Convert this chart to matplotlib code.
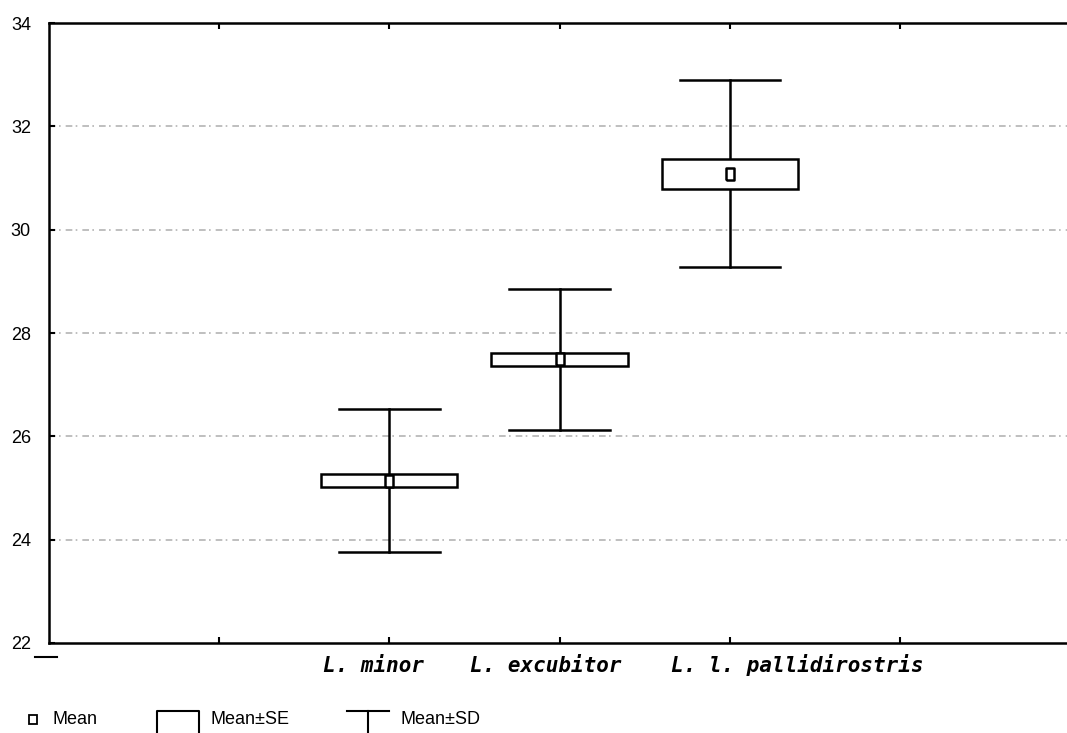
import matplotlib
matplotlib.use("Agg")
import matplotlib.pyplot as plt
import matplotlib.transforms as mtransforms
from matplotlib.lines import Line2D
from matplotlib.patches import Rectangle

# group summaries: mean, mean +/- SE, mean +/- SD
species = ["L. minor", "L. excubitor", "L. l. pallidirostris"]
positions = [2, 3, 4]
means = [25.14, 27.49, 31.08]
se = [0.13, 0.13, 0.29]
sd = [1.38, 1.37, 1.81]

y_ticks = [22, 24, 26, 28, 30, 32, 34]
grid_levels = [24, 26, 28, 30, 32]

fig = plt.figure(figsize=(10.67, 7.33), dpi=100)
ax = fig.add_axes([0.0459, 0.1228, 0.957, 0.8458])
ax.set_xlim(0, 6)
ax.set_ylim(22, 34)

for lvl in grid_levels:
    ax.axhline(lvl, color="#b4b4b4", lw=1.2, ls=(0, (4, 2, 1, 3)), zorder=0)

box_w = 0.8
cap_w = 0.59
mean_marker = [(-0.6, -1), (0.6, -1), (0.6, 1), (-0.6, 1), (-0.6, -1)]
for x, m, s_e, s_d in zip(positions, means, se, sd):
    ax.plot([x, x], [m - s_d, m + s_d], color="black", lw=1.8, zorder=2)
    ax.plot([x - cap_w / 2, x + cap_w / 2], [m + s_d, m + s_d], color="black", lw=1.8, zorder=2)
    ax.plot([x - cap_w / 2, x + cap_w / 2], [m - s_d, m - s_d], color="black", lw=1.8, zorder=2)
    ax.add_patch(Rectangle((x - box_w / 2, m - s_e), box_w, 2 * s_e,
                           facecolor="white", edgecolor="black", lw=1.8, zorder=3))
    ax.plot([x], [m], marker=mean_marker, ms=8.5, mfc="white", mec="black",
            mew=1.8, ls="none", zorder=4)

ax.spines["right"].set_visible(False)
for side in ["left", "top", "bottom"]:
    ax.spines[side].set_linewidth(1.8)

ax.set_yticks(y_ticks)
ax.set_yticklabels([str(v) for v in y_ticks], fontsize=13, family="Liberation Sans")
ax.tick_params(axis="y", direction="in", length=4, width=1.5, pad=13)
ax.set_xticks([1, 2, 3, 4, 5])
ax.set_xticklabels(["", *species, ""])
ax.tick_params(axis="x", direction="in", length=4, width=1.5, top=True, pad=21)

# long names are nudged sideways so they don't run into each other
shifts = [0, -16, -14, 68, 0]
for lbl, dx in zip(ax.get_xticklabels(), shifts):
    lbl.set_fontsize(15)
    lbl.set_fontweight("bold")
    lbl.set_fontstyle("italic")
    lbl.set_family("DejaVu Sans Mono")
    lbl.set_verticalalignment("baseline")
    lbl.set_transform(lbl.get_transform()
                      + mtransforms.ScaledTranslation(dx / 100, 0, fig.dpi_scale_trans))

# underline under the lowest tick label
fig.add_artist(Line2D([35 / 1067, 57 / 1067], [1 - 657 / 733] * 2,
                      color="black", lw=1.5, transform=fig.transFigure))

# legend row at the foot of the figure
fy = 1 - 720 / 733
fig.add_artist(Rectangle((29 / 1067, fy - 0.006), 8 / 1067, 0.013, fill=False,
                         edgecolor="black", lw=1.3, transform=fig.transFigure))
fig.text(52 / 1067, fy, "Mean", fontsize=13, family="Liberation Sans", va="center")
fig.add_artist(Line2D([157 / 1067, 157 / 1067, 199 / 1067, 199 / 1067],
                      [fy - 0.02, fy + 0.012, fy + 0.012, fy - 0.02],
                      color="black", lw=1.5, transform=fig.transFigure))
fig.text(211 / 1067, fy, "Mean±SE", fontsize=13, family="Liberation Sans", va="center")
fig.add_artist(Line2D([347 / 1067, 389 / 1067], [fy + 0.012] * 2,
                      color="black", lw=1.5, transform=fig.transFigure))
fig.add_artist(Line2D([368 / 1067, 368 / 1067], [fy + 0.012, fy - 0.02],
                      color="black", lw=1.5, transform=fig.transFigure))
fig.text(400 / 1067, fy, "Mean±SD", fontsize=13, family="Liberation Sans", va="center")

fig.savefig("out.png", dpi=100)
